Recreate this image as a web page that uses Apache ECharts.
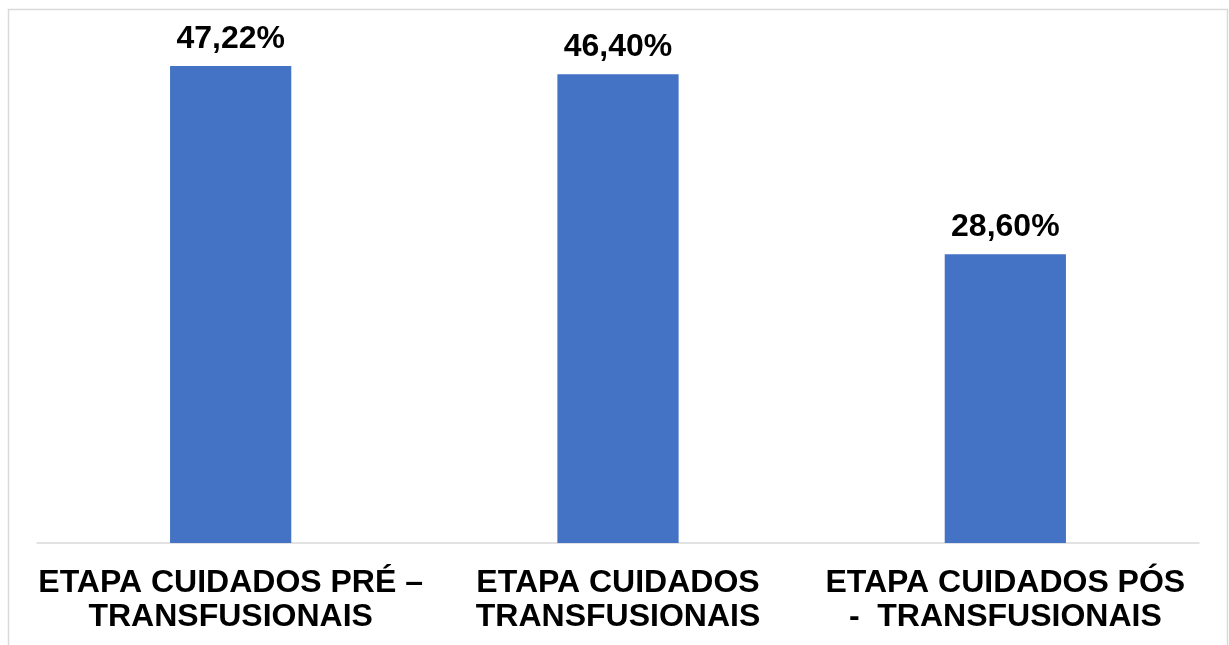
<!DOCTYPE html>
<html>
<head>
<meta charset="utf-8">
<script src="https://cdn.jsdelivr.net/npm/echarts@6/dist/echarts.min.js"></script>
<style>
  html, body { margin: 0; padding: 0; background: #ffffff; }
  #chart { width: 1229px; height: 645px; }
</style>
</head>
<body>
<div id="chart"></div>
<script>
// Stages of transfusion care and their share (%)
const categories = [
  'ETAPA CUIDADOS PRÉ –\nTRANSFUSIONAIS',
  'ETAPA CUIDADOS\nTRANSFUSIONAIS',
  'ETAPA CUIDADOS PÓS\n-  TRANSFUSIONAIS'
];
const values = [47.22, 46.40, 28.60];

const fontFamily = '"Liberation Sans", Arial, sans-serif';

const chart = echarts.init(document.getElementById('chart'));
chart.setOption({
  animation: false,
  backgroundColor: '#ffffff',
  graphic: [{
    type: 'rect',
    silent: true,
    shape: { x: 8.5, y: 9.5, width: 1219, height: 700 },
    style: { fill: 'none', stroke: '#d9d9d9', lineWidth: 1.5 }
  }],
  grid: { left: 37, right: 30, top: 38, bottom: 102 },
  xAxis: {
    type: 'category',
    data: categories,
    axisLine: { lineStyle: { color: '#d9d9d9', width: 1.5 } },
    axisTick: { show: false },
    axisLabel: {
      interval: 0,
      margin: 23,
      color: '#000000',
      fontFamily: fontFamily,
      fontWeight: 'bold',
      fontSize: 32,
      lineHeight: 34
    }
  },
  yAxis: {
    type: 'value',
    min: 0,
    max: 50,
    show: false,
    splitLine: { show: false }
  },
  series: [{
    type: 'bar',
    data: values,
    barWidth: '31.3%',
    itemStyle: { color: '#4472c4' },
    label: {
      show: true,
      position: 'top',
      distance: 11,
      color: '#000000',
      fontFamily: fontFamily,
      fontWeight: 'bold',
      fontSize: 32,
      formatter: p => p.value.toFixed(2).replace('.', ',') + '%'
    }
  }]
});
</script>
</body>
</html>
